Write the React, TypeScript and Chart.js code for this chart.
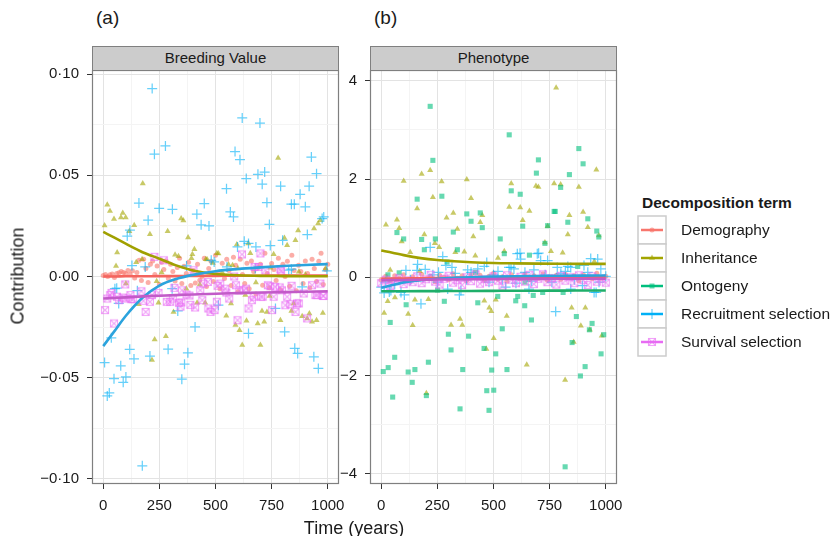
import React, { useEffect, useRef } from 'react';
import { Chart, registerables } from 'chart.js';

Chart.register(...registerables);

type Pair = [number, number];

const FONT = '"Liberation Sans", Arial, Helvetica, sans-serif';
const TEXT = '#1A1A1A';

// ---------------- categories / styles ----------------
const termNames = ['Demography', 'Inheritance', 'Ontogeny', 'Recruitment selection', 'Survival selection'];
const termColors = ['#F8766D', '#A3A500', '#00BF7D', '#00B0F6', '#E76BF3'];
const fitColors = ['#F4645E', '#A0A000', '#1FAF6A', '#2BA3DD', '#C25BC8'];

// ---------------- ticks ----------------
const timeTicks = [0, 125, 250, 375, 500, 625, 750, 875, 1000];
const bvTicks = [-0.1, -0.075, -0.05, -0.025, 0, 0.025, 0.05, 0.075, 0.1];
const phTicks = [-4, -3, -2, -1, 0, 1, 2, 3, 4];

// ---------------- smoothed fits ----------------
const fitT = [0, 50, 100, 175, 250, 325, 400, 500, 600, 700, 800, 900, 1000];
const bvDemographyFit = [0.0, 0.0, 0.0001, 0.0001, 0.0002, 0.0002, 0.0003, 0.0003, 0.0004, 0.0004, 0.0005, 0.0005, 0.0005];
const bvInheritanceFit = [0.022, 0.0192, 0.0162, 0.012, 0.0088, 0.0055, 0.003, 0.0012, 0.0006, 0.0003, 0.0002, 0.0001, 0.0001];
const bvRecruitmentFit = [-0.0344, -0.027, -0.0195, -0.0105, -0.0045, -0.0012, 0.0008, 0.0026, 0.0037, 0.0045, 0.0052, 0.0057, 0.0061];
const bvSurvivalFit = [-0.0109, -0.0106, -0.0103, -0.0098, -0.0095, -0.0092, -0.0089, -0.0085, -0.0082, -0.0079, -0.0077, -0.0075, -0.0073];

const phDemographyFit = [-0.03, -0.028, -0.025, -0.02, -0.016, -0.012, -0.009, -0.006, -0.004, -0.002, -0.001, 0.0, 0.0];
const phInheritanceFit = [0.545, 0.5, 0.45, 0.39, 0.35, 0.325, 0.306, 0.29, 0.283, 0.278, 0.275, 0.273, 0.272];
const phOntogenyFit = [-0.286, -0.285, -0.284, -0.283, -0.282, -0.28, -0.279, -0.277, -0.275, -0.274, -0.272, -0.271, -0.27];
const phRecruitmentFit = [-0.216, -0.16, -0.105, -0.06, -0.03, -0.012, 0.0, 0.012, 0.02, 0.026, 0.03, 0.033, 0.035];
const phSurvivalFit = [-0.06, -0.058, -0.055, -0.05, -0.047, -0.044, -0.041, -0.038, -0.035, -0.033, -0.031, -0.03, -0.03];

// ---------------- panel (a): Breeding value points ----------------
const bvDemography: Pair[] = [
  [0, 0.0005], [10, 0.001], [20, 0.0], [30, 0.0008], [40, 0.0012], [50, -0.0005], [60, 0.0015], [70, 0.0018], [80, 0.0025], [90, 0.002],
  [100, 0.0015], [110, 0.003], [120, 0.001], [130, 0.0028], [140, -0.0008], [150, 0.002], [160, 0.008], [170, -0.002], [180, 0.0085], [190, 0.004],
  [200, -0.003], [210, 0.006], [220, 0.0077], [230, 0.001], [240, 0.0052], [250, -0.004], [260, 0.007], [270, 0.0035], [280, 0.0077], [290, -0.001],
  [300, 0.006], [310, 0.0025], [320, -0.0022], [330, 0.0045], [340, 0.009], [350, -0.0035], [360, 0.005], [370, 0.0015], [380, 0.007], [390, -0.0045],
  [400, 0.003], [410, -0.0032], [420, 0.006], [430, -0.0018], [440, 0.0], [450, 0.009], [460, -0.005], [470, 0.004], [480, 0.0075], [490, -0.0025],
  [500, 0.0105], [510, 0.002], [520, -0.006], [530, 0.0065], [540, -0.001], [550, 0.0085], [560, 0.003], [570, -0.0045], [580, 0.0095], [590, 0.0055],
  [600, -0.0075], [610, 0.0085], [620, 0.001], [630, -0.0035], [640, 0.0065], [650, -0.006], [660, 0.0077], [670, 0.0025], [680, -0.0087], [690, 0.0045],
  [700, 0.006], [710, -0.0043], [720, 0.0115], [730, 0.0015], [740, -0.0055], [750, 0.0064], [760, 0.0035], [770, -0.002], [780, 0.009], [790, -0.0065],
  [800, 0.006], [810, 0.0], [820, 0.0075], [830, -0.0048], [840, 0.0105], [850, 0.003], [860, -0.007], [870, 0.0055], [880, 0.0025], [890, -0.0035],
  [900, 0.0077], [910, 0.0015], [920, -0.0055], [930, 0.0085], [940, 0.004], [950, -0.0025], [960, 0.0075], [970, 0.0115], [980, -0.004], [990, 0.0035],
  [1000, 0.006],
];

const bvInheritance: Pair[] = [
  [6, 0.0252], [18, 0.0355], [30, 0.0324], [48, 0.0284], [57, 0.0052], [62, 0.0118], [79, 0.0291], [87, 0.0314], [100, 0.0291], [101, -0.0035],
  [116, 0.0224], [138, 0.0253], [147, 0.007], [158, -0.0137], [173, 0.0085], [176, 0.0459], [208, 0.0209], [217, -0.0413], [229, -0.0311], [238, -0.0023],
  [246, -0.013], [260, 0.002], [279, -0.0295], [287, 0.0224], [313, -0.0175], [320, 0.0107], [335, 0.01], [347, 0.0286], [357, 0.0276], [370, -0.006],
  [378, 0.0192], [393, 0.009], [397, 0.011], [406, 0.0135], [418, -0.013], [430, -0.004], [454, -0.013], [457, 0.0085], [463, 0.0084], [488, 0.0067],
  [506, 0.0115], [513, 0.0114], [530, 0.002], [548, -0.0194], [558, 0.0059], [569, -0.0133], [576, 0.0056], [589, -0.024], [595, 0.0158], [600, 0.004],
  [607, -0.0265], [619, -0.0339], [633, -0.0092], [638, -0.0219], [646, 0.0163], [655, 0.0115], [680, -0.003], [688, -0.0232], [700, -0.0339], [707, -0.0171],
  [717, -0.0224], [729, -0.0175], [741, -0.0096], [744, 0.0043], [759, 0.011], [779, 0.0585], [789, -0.0216], [807, 0.019], [819, 0.0154], [838, -0.0171],
  [848, -0.0133], [856, 0.0179], [868, 0.0227], [871, 0.0023], [886, -0.0196], [900, 0.001], [908, -0.0207], [918, -0.0183], [930, -0.0224], [939, 0.0237],
  [950, -0.0216], [957, 0.0262], [967, 0.0278], [978, -0.018], [990, 0.004],
];

const bvRecruitment: Pair[] = [
  [6, -0.0425], [18, -0.059], [27, -0.0575], [36, -0.0303], [48, -0.0505], [52, -0.006], [60, -0.0058], [69, -0.0133], [78, -0.0441], [89, -0.0523],
  [101, -0.0496], [107, 0.02], [118, -0.036], [119, 0.0229], [128, 0.0054], [137, -0.0407], [152, -0.007], [159, 0.0363], [174, -0.0935], [187, 0.0047],
  [200, 0.0278], [208, -0.0393], [218, 0.0928], [228, 0.0604], [249, 0.0337], [277, 0.0645], [289, -0.0359], [307, -0.006], [308, 0.0332], [332, -0.017],
  [350, -0.0507], [362, -0.0433], [371, 0.0052], [377, -0.0377], [409, -0.0249], [417, 0.0308], [436, 0.0255], [450, 0.036], [471, 0.025], [481, 0.008],
  [494, 0.0072], [513, -0.0142], [549, 0.0434], [551, 0.0047], [566, 0.0319], [580, 0.0294], [587, 0.0617], [598, 0.0146], [609, 0.0577], [619, 0.0783],
  [628, 0.0174], [637, 0.0484], [647, 0.0163], [647, -0.0281], [677, 0.0039], [680, 0.0146], [689, 0.0505], [698, 0.0758], [708, 0.0456], [719, 0.0516],
  [729, 0.0365], [740, 0.0257], [744, 0.0153], [767, -0.0158], [790, 0.0446], [799, 0.0179], [808, -0.0273], [826, 0.0031], [838, 0.0357], [838, 0.0036],
  [851, 0.0357], [853, -0.0355], [866, -0.038], [877, 0.0406], [886, -0.0051], [900, 0.0344], [909, 0.0207], [917, 0.0446], [927, 0.059], [938, -0.0397],
  [950, 0.0508], [958, -0.0454], [975, 0.0286], [982, 0.0294], [996, 0.0028],
];

const bvSurvival: Pair[] = [
  [8, -0.0166], [18, -0.0109], [31, -0.0092], [37, -0.0081], [48, -0.0232], [61, -0.01], [71, -0.0117], [89, -0.0104], [98, -0.0039], [98, -0.0109],
  [121, -0.0092], [125, -0.0112], [133, -0.0112], [170, -0.0073], [179, -0.012], [189, -0.0175], [208, -0.0125], [217, -0.0092], [228, 0.0097], [246, -0.0081],
  [270, 0.008], [283, -0.0125], [298, -0.0125], [310, -0.0109], [317, -0.0056], [337, -0.013], [344, -0.0149], [348, -0.0128], [351, -0.0068], [371, -0.0089],
  [384, -0.0094], [388, -0.014], [402, 0.0031], [409, -0.0153], [432, -0.0068], [441, -0.0117], [446, -0.0035], [466, -0.0027], [468, -0.0158], [478, -0.0175],
  [496, -0.0166], [506, -0.0125], [509, -0.0046], [521, -0.0035], [543, -0.006], [548, -0.0079], [561, -0.0109], [583, 0.0], [591, -0.0043], [598, -0.0216],
  [606, -0.0068], [618, 0.0109], [625, -0.0068], [636, -0.006], [647, -0.0158], [662, -0.0117], [670, -0.01], [674, 0.0047], [692, 0.0047], [700, 0.0114],
  [703, -0.01], [710, -0.01], [722, 0.003], [733, -0.0043], [744, -0.0048], [752, -0.0166], [759, -0.01], [766, -0.0051], [786, -0.0054], [789, 0.0035],
  [792, 0.0026], [796, -0.0068], [811, -0.0142], [819, -0.01], [833, -0.0137], [839, -0.0046], [856, -0.0175], [863, -0.0133], [871, -0.0133], [893, -0.0084],
  [908, -0.0207], [930, -0.0043], [945, -0.0092], [953, -0.0092], [967, -0.0035], [978, -0.0096], [982, -0.0096],
];

// ---------------- panel (b): Phenotype points ----------------
const phDemography: Pair[] = [
  [0, -0.05], [20, 0.02], [40, -0.08], [60, 0.03], [80, -0.02], [100, 0.05], [120, -0.06], [140, 0.01], [160, -0.04], [180, 0.06],
  [200, -0.03], [220, 0.02], [240, -0.09], [260, 0.04], [280, 0.0], [300, -0.05], [320, 0.07], [340, -0.02], [360, 0.03], [380, -0.07],
  [400, 0.05], [420, -0.01], [440, 0.04], [460, -0.06], [480, 0.02], [500, 0.08], [520, -0.04], [540, 0.01], [560, -0.08], [580, 0.05],
  [600, 0.0], [620, -0.03], [640, 0.06], [660, -0.05], [680, 0.03], [700, -0.02], [720, 0.07], [740, -0.06], [760, 0.01], [780, 0.04],
  [800, -0.04], [820, 0.06], [840, -0.01], [860, 0.03], [880, -0.07], [900, 0.05], [920, 0.0], [940, -0.03], [960, 0.08], [980, -0.02],
  [1000, 0.02],
];

const phInheritance: Pair[] = [
  [13, -0.73], [21, 1.07], [29, -0.49], [40, 0.15], [61, -0.41], [70, 1.17], [80, 1.0], [91, 0.73], [100, 1.96], [120, -0.75],
  [129, 0.51], [140, -0.98], [150, -0.46], [160, 1.4], [171, 0.12], [180, 2.1], [192, 0.87], [201, -2.36], [210, -0.45], [218, 2.18],
  [230, 1.63], [239, 0.69], [258, 0.61], [269, 1.95], [291, 1.21], [311, -0.97], [321, 1.31], [330, 0.51], [339, 0.98], [351, -0.85],
  [361, -0.97], [370, 0.52], [381, 1.99], [400, 1.61], [410, 0.83], [419, 0.44], [441, 1.12], [450, 1.26], [459, -0.48], [468, -1.46],
  [481, -0.62], [490, -0.69], [501, -1.24], [510, -0.46], [520, 0.39], [548, 0.53], [559, -0.79], [570, 1.43], [579, 1.91], [619, 1.42],
  [630, 1.16], [648, -1.78], [660, 1.35], [689, 1.86], [700, 1.84], [729, 0.71], [741, 1.04], [756, 0.53], [770, 1.91], [779, 3.86],
  [799, 1.89], [808, 0.5], [819, -2.09], [831, 0.87], [838, 1.26], [848, -0.62], [857, -1.32], [880, 1.84], [889, -0.99], [899, 1.33],
  [909, -0.62], [920, 1.02], [929, -1.07], [949, 0.32], [958, 2.19], [969, 0.85], [982, -1.19],
];

const phOntogeny: Pair[] = [
  [9, -1.92], [30, 0.05], [31, -1.84], [40, -0.92], [51, -2.44], [60, -1.63], [70, 0.91], [80, 0.09], [100, 0.78], [111, -0.56],
  [120, -1.93], [138, -2.14], [150, -1.88], [160, 1.59], [180, 0.77], [192, 0.56], [201, -2.41], [210, -1.73], [218, 3.48], [230, 2.38],
  [241, 0.78], [251, -0.26], [270, 1.65], [281, -0.49], [293, 0.31], [299, -1.16], [311, -1.48], [321, 0.92], [339, 0.56], [351, -2.68],
  [363, -1.88], [381, 1.29], [389, -1.2], [400, 1.14], [420, 0.1], [430, -0.52], [441, 1.31], [450, 1.01], [458, -1.45], [470, -2.31],
  [480, -2.71], [492, -1.89], [501, -2.3], [510, -1.56], [519, -0.39], [530, 0.78], [539, -1.05], [548, 0.48], [560, -1.88], [570, 2.9],
  [579, 1.76], [599, -0.48], [608, -0.39], [619, 1.69], [630, 1.04], [639, -0.58], [640, -0.1], [660, 0.45], [669, -0.87], [677, -0.37],
  [691, 2.12], [700, 2.39], [719, -0.31], [729, 0.69], [741, 1.05], [770, 1.34], [775, 1.34], [799, 1.83], [810, -0.31], [819, -3.86],
  [831, 1.12], [838, 2.09], [850, -1.33], [869, -0.8], [875, 0.22], [880, 2.62], [887, -2.01], [899, 2.31], [908, -1.82], [920, 1.19],
  [927, -1.07], [939, -0.94], [960, 0.94], [969, 0.82], [979, -1.56], [991, -1.17],
];

const phRecruitment: Pair[] = [
  [0, -0.2], [13, -0.32], [20, -0.1], [36, -0.3], [43, -0.27], [60, -0.15], [88, -0.31], [103, -0.36], [110, 0.14], [130, -0.05],
  [159, 0.14], [162, 0.26], [177, -0.54], [196, 0.16], [218, 0.61], [230, 0.05], [250, -0.1], [255, 0.1], [274, 0.42], [288, 0.24],
  [296, -0.24], [315, 0.2], [330, 0.08], [348, -0.36], [355, -0.27], [380, -0.05], [385, 0.15], [400, 0.1], [430, 0.17], [459, 0.22],
  [470, 0.3], [480, -0.1], [500, 0.05], [520, 0.12], [540, -0.05], [554, -0.2], [569, 0.2], [578, 0.2], [591, 0.17], [600, -0.12],
  [606, 0.48], [618, 0.49], [621, 0.37], [640, 0.1], [658, -0.24], [670, -0.08], [680, 0.15], [695, 0.48], [701, 0.49], [710, 0.34],
  [730, 0.05], [741, 0.34], [760, -0.1], [777, -0.7], [784, 0.2], [800, 0.08], [820, 0.12], [831, 0.22], [844, 0.2], [844, -0.24],
  [860, -0.05], [896, -0.17], [903, 0.24], [920, 0.1], [933, 0.38], [948, -0.31], [957, -0.31], [964, 0.37], [970, -0.1], [978, 0.17],
  [1000, 0.02],
];

const phSurvival: Pair[] = [
  [0, -0.12], [20, -0.05], [40, -0.18], [60, -0.08], [80, -0.02], [100, -0.14], [120, -0.06], [140, -0.1], [160, 0.02], [180, -0.12],
  [200, -0.04], [220, 0.05], [240, -0.09], [260, -0.15], [280, -0.03], [300, 0.03], [320, -0.11], [340, -0.06], [360, -0.16], [380, 0.0],
  [400, -0.08], [420, 0.06], [440, -0.13], [460, -0.04], [480, -0.1], [500, 0.02], [520, -0.07], [540, -0.17], [560, 0.04], [580, -0.05],
  [600, -0.12], [620, 0.01], [640, -0.09], [660, 0.05], [680, -0.14], [700, -0.03], [720, 0.06], [740, -0.1], [760, -0.02], [780, -0.15],
  [800, 0.03], [820, -0.07], [840, 0.0], [860, -0.12], [880, 0.04], [900, -0.06], [920, -0.16], [940, 0.02], [960, -0.09], [980, -0.03],
  [1000, -0.11],
];

// ---------------- helpers ----------------
function rgba(hex: string, a: number): string {
  const n = parseInt(hex.slice(1), 16);
  return `rgba(${(n >> 16) & 255},${(n >> 8) & 255},${n & 255},${a})`;
}

function makeBoxX(color: string): HTMLCanvasElement {
  const c = document.createElement('canvas');
  c.width = 10;
  c.height = 10;
  const g = c.getContext('2d')!;
  g.strokeStyle = color;
  g.lineWidth = 1.1;
  g.strokeRect(1.5, 1.5, 7, 7);
  g.beginPath();
  g.moveTo(1.5, 1.5);
  g.lineTo(8.5, 8.5);
  g.moveTo(8.5, 1.5);
  g.lineTo(1.5, 8.5);
  g.stroke();
  return c;
}

const FILL_ALPHA = 0.6;

function pointDataset(idx: number, pts: Pair[]): any {
  const base: any = {
    label: termNames[idx],
    data: pts.map(([x, y]) => ({ x, y })),
    showLine: false,
    order: 10 - idx,
  };
  const fill = rgba(termColors[idx], FILL_ALPHA);
  if (idx === 0) return { ...base, pointStyle: 'circle', pointRadius: 2.5, pointBackgroundColor: fill, pointBorderWidth: 0, pointBorderColor: fill };
  if (idx === 1) return { ...base, pointStyle: 'triangle', pointRadius: 3.5, pointBackgroundColor: fill, pointBorderWidth: 0, pointBorderColor: fill };
  if (idx === 2) return { ...base, pointStyle: 'rect', pointRadius: 3.6, pointBackgroundColor: fill, pointBorderWidth: 0, pointBorderColor: fill };
  if (idx === 3) return { ...base, pointStyle: 'cross', pointRadius: 5, pointBackgroundColor: 'rgba(0,0,0,0)', pointBorderWidth: 1.25, pointBorderColor: rgba(termColors[idx], 0.6) };
  return { ...base, pointStyle: makeBoxX(rgba(termColors[idx], 0.6)), pointRadius: 5 };
}

function fitDataset(idx: number, vals: number[]): any {
  return {
    type: 'line',
    label: termNames[idx] + ' fit',
    data: fitT.map((x, i) => ({ x, y: vals[i] })),
    showLine: true,
    borderColor: fitColors[idx],
    borderWidth: 2.6,
    pointRadius: 0,
    fill: false,
    cubicInterpolationMode: 'monotone',
    order: (4 - idx) * 0.1,
  };
}

const panelBorder = {
  id: 'panelBorder',
  afterDatasetsDraw(chart: any) {
    const { ctx, chartArea } = chart;
    ctx.save();
    ctx.strokeStyle = '#7F7F7F';
    ctx.lineWidth = 1.2;
    ctx.strokeRect(chartArea.left + 0.5, chartArea.top + 0.5, chartArea.right - chartArea.left - 1, chartArea.bottom - chartArea.top - 1);
    ctx.restore();
  },
};

interface PanelSpec {
  datasets: any[];
  yMin: number;
  yMax: number;
  yTicks: number[];
  yMajor: (v: number) => boolean;
  yFmt: (v: number) => string;
  yWidth: number;
  padRight: number;
}

const timeMajor = (v: number) => Math.abs(v % 250) < 1e-9;

function buildChart(canvas: HTMLCanvasElement, spec: PanelSpec): Chart {
  const gridColor = (major: (v: number) => boolean) => (ctx: any) =>
    ctx.tick && major(ctx.tick.value) ? '#E3E3E3' : '#F4F4F4';
  const tickColor = (major: (v: number) => boolean) => (ctx: any) =>
    ctx.tick && major(ctx.tick.value) ? '#333333' : 'rgba(0,0,0,0)';
  return new Chart(canvas, {
    type: 'scatter',
    data: { datasets: spec.datasets },
    options: {
      animation: false,
      responsive: false,
      devicePixelRatio: 1,
      layout: { padding: { top: 20, right: spec.padRight, left: 0, bottom: 0 } },
      plugins: { legend: { display: false }, tooltip: { enabled: false } },
      scales: {
        x: {
          type: 'linear',
          min: -50,
          max: 1050,
          afterBuildTicks: (s: any) => {
            s.ticks = timeTicks.map((v) => ({ value: v }));
          },
          afterFit: (s: any) => {
            s.height = 52;
          },
          ticks: {
            autoSkip: false,
            maxRotation: 0,
            minRotation: 0,
            padding: 8,
            color: TEXT,
            font: { family: FONT, size: 15 },
            callback: (v: any) => (timeMajor(Number(v)) ? String(v) : ''),
          },
          grid: { color: gridColor(timeMajor), tickColor: tickColor(timeMajor), tickLength: 5, lineWidth: 1 },
          border: { display: false },
        },
        y: {
          type: 'linear',
          min: spec.yMin,
          max: spec.yMax,
          afterBuildTicks: (s: any) => {
            s.ticks = spec.yTicks.map((v) => ({ value: v }));
          },
          afterFit: (s: any) => {
            s.width = spec.yWidth;
          },
          ticks: {
            autoSkip: false,
            padding: 8,
            color: TEXT,
            font: { family: FONT, size: 15 },
            callback: (v: any) => spec.yFmt(Number(v)),
          },
          grid: { color: gridColor(spec.yMajor), tickColor: tickColor(spec.yMajor), tickLength: 5, lineWidth: 1 },
          border: { display: false },
        },
      },
    } as any,
    plugins: [panelBorder],
  });
}

const bvMajor = (v: number) => Math.abs(v / 0.05 - Math.round(v / 0.05)) < 1e-6;
const bvFmt = (v: number) => {
  if (!bvMajor(v)) return '';
  const s = Math.abs(v).toFixed(2).replace('.', '·');
  return v < -1e-9 ? '−' + s : s;
};
const phMajor = (v: number) => Math.abs(v / 2 - Math.round(v / 2)) < 1e-6;
const phFmt = (v: number) => {
  if (!phMajor(v)) return '';
  return v < 0 ? '−' + Math.abs(v) : String(v);
};

function KeyGlyph({ i }: { i: number }) {
  const c = termColors[i];
  const f = rgba(c, FILL_ALPHA);
  let marker: any = null;
  if (i === 0) marker = <circle cx={15} cy={15} r={2.5} fill={f} />;
  if (i === 1) marker = <polygon points="15,11.5 18,16.7 12,16.7" fill={f} />;
  if (i === 2) marker = <rect x={12.5} y={12.5} width={5} height={5} fill={f} />;
  if (i === 3)
    marker = (
      <g stroke={rgba(c, 0.6)} strokeWidth={1.2}>
        <line x1={15} y1={10} x2={15} y2={20} />
        <line x1={10} y1={15} x2={20} y2={15} />
      </g>
    );
  if (i === 4)
    marker = (
      <g stroke={rgba(c, 0.6)} strokeWidth={1.1} fill="none">
        <rect x={11.5} y={11.5} width={7} height={7} />
        <line x1={11.5} y1={11.5} x2={18.5} y2={18.5} />
        <line x1={18.5} y1={11.5} x2={11.5} y2={18.5} />
      </g>
    );
  return (
    <svg width={30} height={30} style={{ position: 'absolute', left: 637, top: 215 + 28 * i }}>
      <rect x={1} y={1} width={28} height={28} fill="#FFFFFF" stroke="#CCCCCC" strokeWidth={1.5} />
      <line x1={4} y1={15} x2={26} y2={15} stroke={termColors[i]} strokeWidth={2.5} />
      {marker}
    </svg>
  );
}

export default function App() {
  const refA = useRef<HTMLCanvasElement>(null);
  const refB = useRef<HTMLCanvasElement>(null);

  useEffect(() => {
    const dsA = [
      fitDataset(0, bvDemographyFit),
      fitDataset(1, bvInheritanceFit),
      fitDataset(3, bvRecruitmentFit),
      fitDataset(4, bvSurvivalFit),
      pointDataset(0, bvDemography),
      pointDataset(1, bvInheritance),
      pointDataset(3, bvRecruitment),
      pointDataset(4, bvSurvival),
    ];
    const dsB = [
      fitDataset(0, phDemographyFit),
      fitDataset(1, phInheritanceFit),
      fitDataset(2, phOntogenyFit),
      fitDataset(3, phRecruitmentFit),
      fitDataset(4, phSurvivalFit),
      pointDataset(0, phDemography),
      pointDataset(1, phInheritance),
      pointDataset(2, phOntogeny),
      pointDataset(3, phRecruitment),
      pointDataset(4, phSurvival),
    ];
    const a = buildChart(refA.current!, {
      datasets: dsA,
      yMin: -0.1025,
      yMax: 0.102,
      yTicks: bvTicks,
      yMajor: bvMajor,
      yFmt: bvFmt,
      yWidth: 92,
      padRight: 21,
    });
    const b = buildChart(refB.current!, {
      datasets: dsB,
      yMin: -4.21,
      yMax: 4.22,
      yTicks: phTicks,
      yMajor: phMajor,
      yFmt: phFmt,
      yWidth: 30,
      padRight: 23,
    });
    return () => {
      a.destroy();
      b.destroy();
    };
  }, []);

  const text: React.CSSProperties = { position: 'absolute', fontFamily: FONT, color: TEXT, whiteSpace: 'nowrap' };
  const strip: React.CSSProperties = {
    position: 'absolute',
    top: 46,
    height: 25,
    background: '#CCCCCC',
    border: '1.2px solid #7F7F7F',
    boxSizing: 'border-box',
    fontFamily: FONT,
    fontSize: 15,
    color: TEXT,
    textAlign: 'center',
    lineHeight: '22px',
  };

  return (
    <div style={{ position: 'absolute', left: 0, top: 0, width: 831, height: 536, overflow: 'hidden', background: '#FFFFFF' }}>
      <canvas ref={refA} width={360} height={486} style={{ position: 'absolute', left: 0, top: 50 }} />
      <canvas ref={refB} width={300} height={486} style={{ position: 'absolute', left: 340, top: 50 }} />
      <div style={{ ...strip, left: 92, width: 247 }}>Breeding Value</div>
      <div style={{ ...strip, left: 370, width: 247 }}>Phenotype</div>
      <div style={{ ...text, left: 96, top: 7, fontSize: 19 }}>(a)</div>
      <div style={{ ...text, left: 374, top: 7, fontSize: 19 }}>(b)</div>
      <div style={{ ...text, left: 18, top: 276, fontSize: 18, transform: 'translate(-50%, -50%) rotate(-90deg)' }}>Contribution</div>
      <div style={{ ...text, left: 354, top: 528, fontSize: 18, transform: 'translate(-50%, -50%)' }}>Time (years)</div>
      <div style={{ ...text, left: 642, top: 194, fontSize: 15.5, fontWeight: 'bold' }}>Decomposition term</div>
      {termNames.map((n, i) => (
        <React.Fragment key={n}>
          <KeyGlyph i={i} />
          <div style={{ ...text, left: 681, top: 221 + 28 * i, fontSize: 15.5 }}>{n}</div>
        </React.Fragment>
      ))}
    </div>
  );
}
